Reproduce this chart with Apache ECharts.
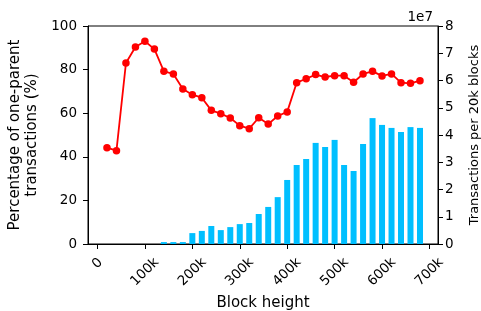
<!DOCTYPE html>
<html>
<head>
<meta charset="utf-8">
<script src="https://cdn.jsdelivr.net/npm/echarts@6/dist/echarts.min.js"></script>
<style>
  html, body { margin: 0; padding: 0; background: #fff; }
  #main { width: 481px; height: 311px; }
</style>
</head>
<body>
<div id="main"></div>
<script>
// block height at the middle of each 20k window
let blocks = [20000, 40000, 60000, 80000, 100000, 120000, 140000, 160000, 180000, 200000,
    220000, 240000, 260000, 280000, 300000, 320000, 340000, 360000, 380000, 400000,
    420000, 440000, 460000, 480000, 500000, 520000, 540000, 560000, 580000, 600000,
    620000, 640000, 660000, 680000];

// share of one-parent transactions (%)
let pctOneParent = [44.2, 42.8, 83.0, 90.4, 93.0, 89.4, 79.2, 78.0, 71.1, 68.5,
    67.1, 61.3, 59.8, 57.8, 54.3, 52.9, 57.9, 55.0, 58.7, 60.6,
    74.0, 75.8, 77.7, 76.6, 77.2, 77.2, 74.2, 78.0, 79.2, 77.1,
    78.0, 74.0, 73.7, 74.9];

// transactions per 20k blocks
let txCount = [0, 0, 0, 0, 0, 0, 700000, 700000, 700000, 4000000,
    4800000, 6600000, 5100000, 6200000, 7300000, 7700000, 11000000, 13600000, 17200000, 23500000,
    29000000, 31200000, 37100000, 35600000, 38200000, 29000000, 26800000, 36700000, 46200000, 43700000,
    42600000, 41100000, 42900000, 42600000];

let xTicks = [0, 100000, 200000, 300000, 400000, 500000, 600000, 700000];
let xTickLabels = ['0', '100k', '200k', '300k', '400k', '500k', '600k', '700k'];

let font = 'DejaVu Sans';
let myChart = echarts.init(document.getElementById('main'));

let option = {
    animation: false,
    textStyle: { fontFamily: font },
    title: {
        text: '1e7',
        right: 43,
        top: 5,
        textStyle: { fontFamily: font, fontSize: 13.5, fontWeight: 'normal', color: '#000' }
    },
    grid: {
        left: 88, right: 43, top: 26, bottom: 67,
        outerBoundsMode: 'none',
        containLabel: false,
        show: true, borderColor: '#000', borderWidth: 1
    },
    xAxis: {
        type: 'value',
        min: -20000,
        max: 718000,
        name: 'Block height',
        nameLocation: 'middle',
        nameGap: 51,
        nameTextStyle: { fontFamily: font, fontSize: 15, color: '#000' },
        splitLine: { show: false },
        axisLine: { onZero: false, lineStyle: { color: '#000', width: 1 } },
        axisTick: { show: true, length: 5, customValues: xTicks, lineStyle: { color: '#000' } },
        axisLabel: {
            customValues: xTicks,
            rotate: 45,
            align: 'center',
            verticalAlign: 'middle',
            margin: 28,
            fontFamily: font,
            fontSize: 13.5,
            color: '#000',
            formatter: function (v) {
                let i = xTicks.indexOf(v);
                let s = i >= 0 ? xTickLabels[i] : '';
                return v === 0 ? '{z|' + s + '}' : s;
            },
            rich: {
                z: { fontFamily: font, fontSize: 13.5, color: '#000', padding: [0, 0, 12, 12] }
            }
        }
    },
    yAxis: [
        {
            type: 'value',
            min: 0, max: 100, interval: 20,
            position: 'left',
            name: 'Percentage of one-parent\ntransactions (%)',
            nameLocation: 'middle',
            nameRotate: 90,
            nameGap: 46,
            nameTextStyle: { fontFamily: font, fontSize: 15, color: '#000', lineHeight: 17 },
            splitLine: { show: false },
            axisLine: { show: true, onZero: false, lineStyle: { color: '#000', width: 1 } },
            axisTick: { show: true, length: 5, lineStyle: { color: '#000' } },
            axisLabel: { fontFamily: font, fontSize: 13.5, color: '#000', margin: 11 }
        },
        {
            type: 'value',
            min: 0, max: 80000000, interval: 10000000,
            position: 'right',
            name: 'Transactions per 20k blocks',
            nameLocation: 'middle',
            nameRotate: 90,
            nameGap: 30,
            nameTextStyle: { fontFamily: font, fontSize: 13, color: '#000' },
            splitLine: { show: false },
            axisLine: { show: true, onZero: false, lineStyle: { color: '#000', width: 1 } },
            axisTick: { show: true, length: 5, lineStyle: { color: '#000' } },
            axisLabel: {
                fontFamily: font, fontSize: 13.5, color: '#000', margin: 7,
                formatter: function (v) { return String(v / 10000000); }
            }
        }
    ],
    series: [
        {
            name: 'Transactions',
            type: 'bar',
            yAxisIndex: 1,
            barWidth: 6,
            itemStyle: { color: '#00BFFF' },
            data: blocks.map(function (b, i) { return [b, txCount[i]]; }),
            z: 2
        },
        {
            name: 'One-parent',
            type: 'line',
            yAxisIndex: 0,
            symbol: 'circle',
            symbolSize: 7.5,
            lineStyle: { color: '#FF0000', width: 1.8 },
            itemStyle: { color: '#FF0000' },
            data: blocks.map(function (b, i) { return [b, pctOneParent[i]]; }),
            z: 3
        }
    ]
};

myChart.setOption(option);
</script>
</body>
</html>
